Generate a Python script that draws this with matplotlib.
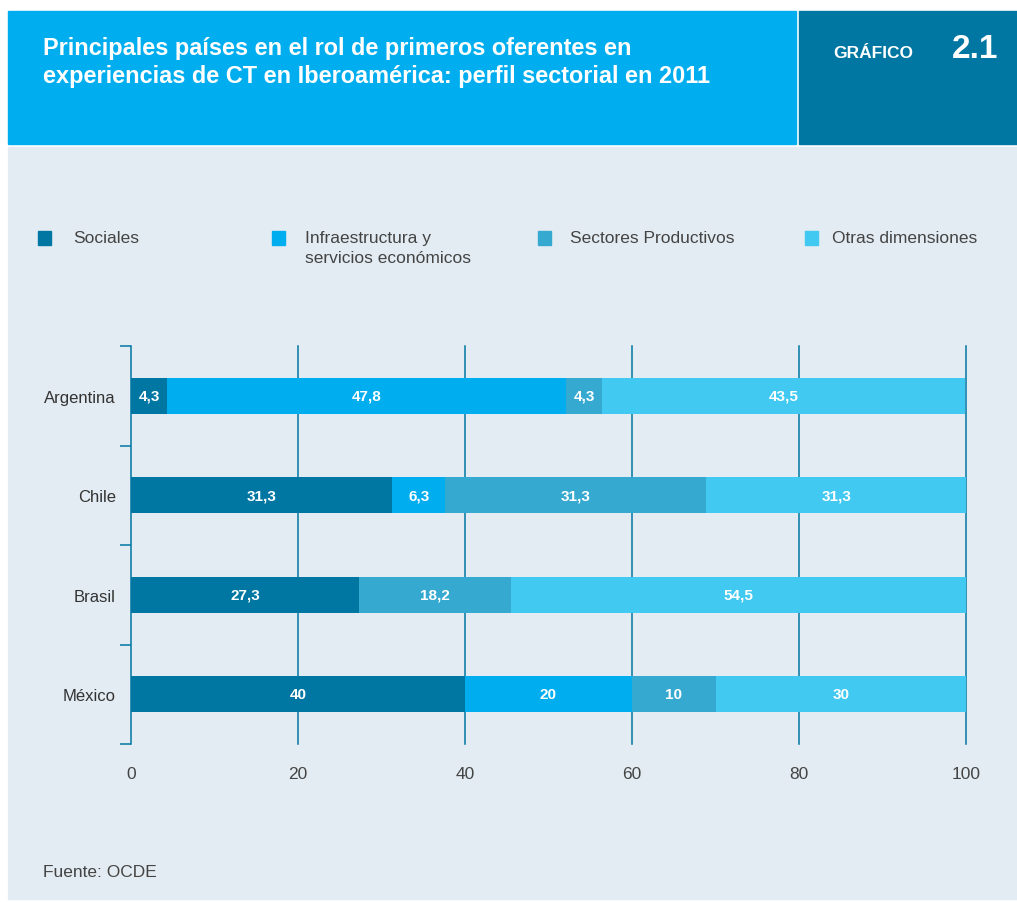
import numpy as np
import matplotlib.pyplot as plt
from matplotlib.patches import Rectangle

plt.rcParams['font.family'] = ['Liberation Sans', 'DejaVu Sans']

paises = ["Argentina", "Chile", "Brasil", "México"]
sectores = ["Sociales", "Infraestructura y\nservicios económicos",
            "Sectores Productivos", "Otras dimensiones"]
sociales = [4.3, 31.3, 27.3, 40]
infraestructura = [47.8, 6.3, 0, 20]
productivos = [4.3, 31.3, 18.2, 10]
otras = [43.5, 31.3, 54.5, 30]
colores = ["#0077a3", "#00aeef", "#36a9d1", "#41c9f2"]

W, H = 1017, 903
fig = plt.figure(figsize=(W / 100, H / 100), dpi=100)
fig.patch.set_facecolor("white")


def caja(x0, y0, x1, y1, color, z=-2):
    fig.patches.append(Rectangle((x0 / W, 1 - y1 / H), (x1 - x0) / W, (y1 - y0) / H,
                                 transform=fig.transFigure, color=color, zorder=z))


# cabecera y panel de fondo
caja(8, 12, 796, 145, "#00aeef")
caja(799, 12, 1017, 145, "#0077a3")
caja(8, 148, 1017, 900, "#e3ecf2")

fig.text(43 / W, 1 - 49 / H, "Principales países en el rol de primeros oferentes en",
         color="white", fontsize=16.9, fontweight="bold", va="center")
fig.text(43 / W, 1 - 77 / H, "experiencias de CT en Iberoamérica: perfil sectorial en 2011",
         color="white", fontsize=16.9, fontweight="bold", va="center")
fig.text(833 / W, 1 - 54 / H, "GRÁFICO", color="white", fontsize=12.5,
         fontweight="bold", va="center")
fig.text(952 / W, 1 - 49 / H, "2.1", color="white", fontsize=24,
         fontweight="bold", va="center")

# leyenda
leg_x = [(38, 73), (272, 305), (538, 570), (805, 832)]
for (sx, tx), nombre, c in zip(leg_x, sectores, colores):
    fig.patches.append(Rectangle((sx / W, 1 - 246 / H), 13 / W, 14 / H,
                                 transform=fig.transFigure, color=c, zorder=1))
    fig.text(tx / W, 1 - 231 / H, nombre, color="#444444", fontsize=12.5,
             va="top", linespacing=1.4)

ax = fig.add_axes([131 / W, 1 - 745 / H, (966 - 131) / W, (745 - 347) / H])
ax.set_facecolor("none")

y = np.arange(len(paises))
series = [sociales, infraestructura, productivos, otras]
izq = np.zeros(len(paises))
for vals, c in zip(series, colores):
    vals = np.array(vals)
    ax.barh(y, vals, left=izq, height=0.36, color=c, zorder=3)
    for i, v in enumerate(vals):
        if v > 0:
            lab = f"{v:g}".replace(".", ",")
            ax.text(izq[i] + v / 2, y[i], lab, ha="center", va="center",
                    color="white", fontsize=11, fontweight="bold", zorder=4)
    izq = izq + vals

ax.set_xlim(0, 100)
ax.set_ylim(3.5, -0.5)
for xv in [20, 40, 60, 80, 100]:
    ax.axvline(xv, color="#0077a3", lw=1.1, zorder=1, clip_on=False)

ax.set_xticks([0, 20, 40, 60, 80, 100])
ax.tick_params(axis="x", length=0, pad=16, labelsize=12.5, labelcolor="#444444")

ax.set_yticks([-0.5, 0.5, 1.5, 2.5, 3.5])
ax.set_yticklabels([])
ax.set_yticks(y, minor=True)
ax.set_yticklabels(paises, minor=True)
ax.tick_params(axis="y", which="major", length=8, width=1.1, color="#0077a3")
ax.tick_params(axis="y", which="minor", length=0, pad=11, labelsize=12,
               labelcolor="#333333")

for s in ["top", "right", "bottom"]:
    ax.spines[s].set_visible(False)
ax.spines["left"].set_color("#0077a3")
ax.spines["left"].set_linewidth(1.1)

fig.text(43 / W, 1 - 873 / H, "Fuente: OCDE", color="#444444", fontsize=12.5,
         va="center")

plt.savefig("out.png", dpi=100)
